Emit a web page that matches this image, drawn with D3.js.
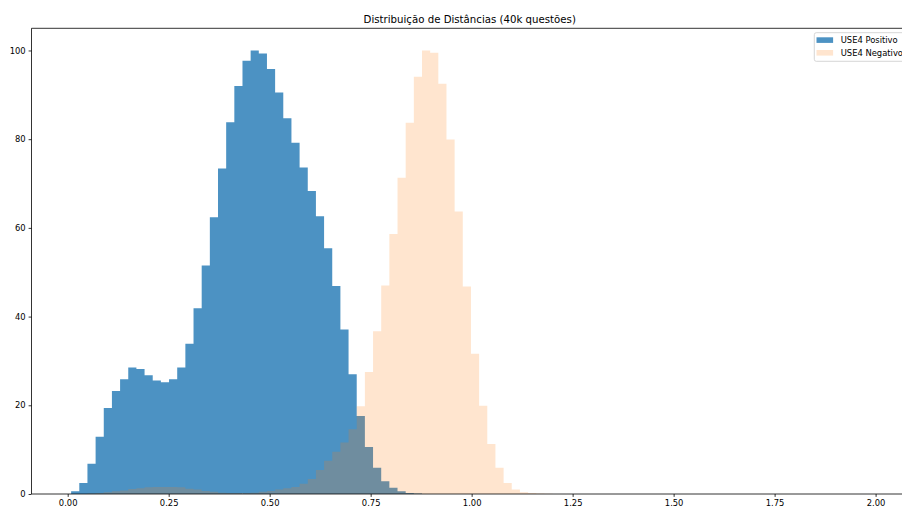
<!DOCTYPE html>
<html>
<head>
<meta charset="utf-8">
<script src="https://cdn.jsdelivr.net/npm/d3@7"></script>
<style>
  body { margin: 0; background: #fff; }
  svg { display: block; }
  text { font-family: "DejaVu Sans", sans-serif; fill: #000; }
</style>
</head>
<body>
<svg id="chart" width="902" height="507"></svg>
<script>
// Chart text
const chartTitle = "Distribuição de Distâncias (40k questões)";
const seriesNames = ["USE4 Positivo", "USE4 Negativo"];

// Shared histogram bins: left edge of the first bin and bin width
const binStart = 0.0085;
const binWidth = 0.0202;

// Relative frequency per bin (peak scaled to 100)
const positivo = [
  0.6, 2.5, 6.8, 12.9, 19.4, 23.2, 25.9, 28.5, 28.2, 26.8,
  25.6, 25.2, 25.9, 28.5, 33.9, 41.9, 51.5, 62.4, 73.4, 83.8,
  92.0, 97.7, 100, 99.3, 95.8, 90.5, 84.7, 79.2, 73.6, 68.3,
  62.6, 55.4, 46.9, 37.1, 27.0, 17.6, 10.6, 5.9, 2.9, 1.4,
  0.6, 0.2, 0.1
];
const negativo = [
  0, 0, 0.1, 0.2, 0.4, 0.6, 0.8, 1.1, 1.3, 1.5,
  1.6, 1.6, 1.6, 1.5, 1.2, 1.0, 0.7, 0.5, 0.3, 0.2,
  0.2, 0.2, 0.3, 0.5, 0.7, 1.0, 1.3, 1.6, 2.3, 3.4,
  5.4, 7.5, 9.5, 11.6, 14.6, 19.8, 27.5, 36.7, 47.0, 58.6,
  71.3, 83.7, 94.1, 100, 99.5, 92.5, 79.9, 63.7, 46.8, 31.6,
  19.9, 11.3, 5.9, 2.5, 1.0, 0.4, 0.2, 0.1, 0.05
];

// Axis ticks
const xTicks = [0, 0.25, 0.5, 0.75, 1.0, 1.25, 1.5, 1.75, 2.0];
const yTicks = [0, 20, 40, 60, 80, 100];

// Layout
const plot = { left: 31.5, right: 908, top: 28.3, bottom: 494 };
const tickLen = 2.9;
const tickFont = 8.4;

const svg = d3.select("#chart");

const x = d3.scaleLinear().domain([-0.0896, 2.0802]).range([plot.left, plot.right]);
const y = d3.scaleLinear().domain([0, 105]).range([plot.bottom, plot.top]);

const series = [
  { name: seriesNames[0], values: positivo, color: "#1f77b4", alpha: 0.8 },
  { name: seriesNames[1], values: negativo, color: "#ff7f0e", alpha: 0.2 }
];

// Each series' bars go into a single path (one rectangle sub-path per bin),
// so neighbouring bars don't leave anti-aliasing seams between them.
function barsPath(values) {
  const p = d3.path();
  values.forEach((v, i) => {
    if (v <= 0) return;
    const x0 = x(binStart + i * binWidth);
    const x1 = x(binStart + (i + 1) * binWidth);
    p.rect(x0, y(v), x1 - x0, y(0) - y(v));
  });
  return p.toString();
}

// The later series is painted on top of the earlier one
svg.append("g")
  .selectAll("path")
  .data(series)
  .join("path")
  .attr("d", s => barsPath(s.values))
  .attr("fill", s => s.color)
  .attr("fill-opacity", s => s.alpha);

// Axes
const xAxis = d3.axisBottom(x)
  .tickValues(xTicks)
  .tickFormat(d3.format(".2f"))
  .tickSize(tickLen)
  .tickPadding(2.9);
const yAxis = d3.axisLeft(y)
  .tickValues(yTicks)
  .tickFormat(d3.format("d"))
  .tickSize(tickLen)
  .tickPadding(2.9);

const gx = svg.append("g").attr("transform", `translate(0,${plot.bottom})`).call(xAxis);
const gy = svg.append("g").attr("transform", `translate(${plot.left},0)`).call(yAxis);
[gx, gy].forEach(g => {
  g.select(".domain").remove();
  g.selectAll(".tick line").attr("stroke", "#000").attr("stroke-width", 0.8);
  g.selectAll(".tick text")
    .attr("font-size", tickFont)
    .attr("font-family", "DejaVu Sans")
    .attr("fill", "#000");
});

// Frame around the plotting area
const spine = svg.append("g").attr("stroke", "#000").attr("stroke-width", 0.8).attr("fill", "none");
spine.append("line").attr("x1", plot.left).attr("x2", plot.left).attr("y1", plot.top).attr("y2", plot.bottom);
spine.append("line").attr("x1", plot.left).attr("x2", plot.right).attr("y1", plot.bottom).attr("y2", plot.bottom);
spine.append("line").attr("x1", plot.left).attr("x2", plot.right).attr("y1", plot.top).attr("y2", plot.top);
spine.append("line").attr("x1", plot.right).attr("x2", plot.right).attr("y1", plot.top).attr("y2", plot.bottom);

// Title
svg.append("text")
  .attr("x", (plot.left + plot.right) / 2)
  .attr("y", 23)
  .attr("text-anchor", "middle")
  .attr("font-size", 10.2)
  .text(chartTitle);

// Legend (upper right)
const legend = svg.append("g");
legend.append("rect")
  .attr("x", 814.3).attr("y", 32.7)
  .attr("width", 91.5).attr("height", 28.6)
  .attr("rx", 2).attr("ry", 2)
  .attr("fill", "#fff").attr("fill-opacity", 0.8)
  .attr("stroke", "#cccccc").attr("stroke-width", 0.8);
series.forEach((s, i) => {
  const rowY = 43.3 + i * 12.7;
  legend.append("rect")
    .attr("x", 816.5).attr("y", rowY - 6)
    .attr("width", 16.6).attr("height", 5.6)
    .attr("fill", s.color).attr("fill-opacity", s.alpha);
  legend.append("text")
    .attr("x", 840.7).attr("y", rowY)
    .attr("font-size", tickFont)
    .text(s.name);
});
</script>
</body>
</html>
